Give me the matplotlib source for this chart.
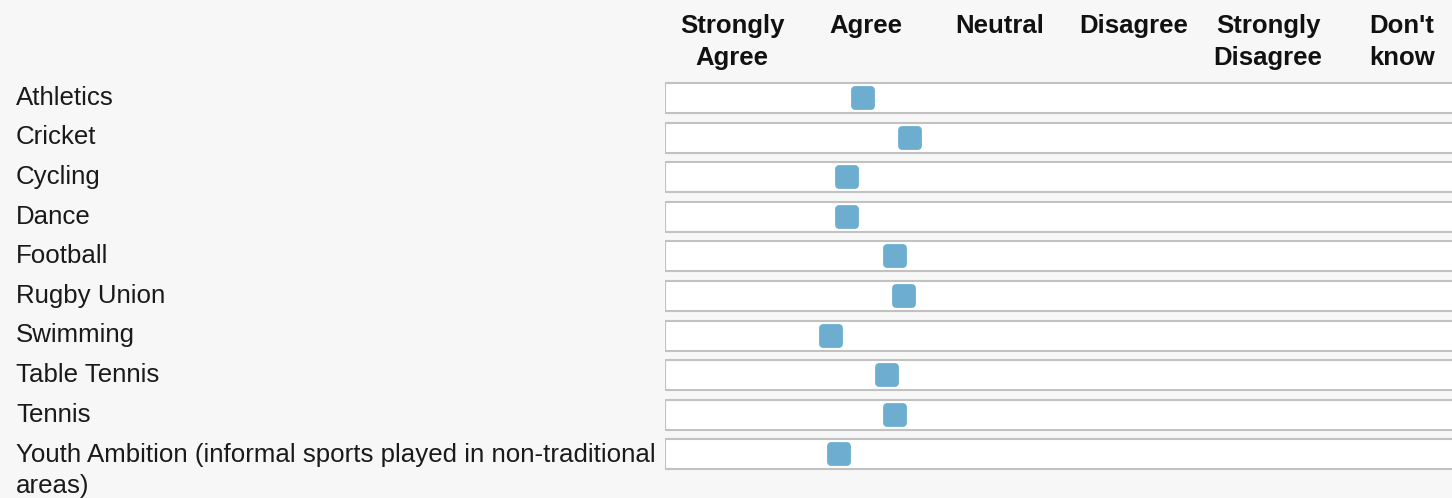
import matplotlib
matplotlib.use("Agg")
import matplotlib.pyplot as plt
from matplotlib.markers import MarkerStyle
from matplotlib.transforms import blended_transform_factory

# ---- data ----
categories = ["Athletics", "Cricket", "Cycling", "Dance", "Football",
              "Rugby Union", "Swimming", "Table Tennis", "Tennis",
              "Youth Ambition (informal sports played in non-traditional\nareas)"]
# 1 = Strongly Agree ... 5 = Strongly Disagree, 6 = Don't know
mean_scores = [1.98, 2.33, 1.86, 1.86, 2.22, 2.28, 1.74, 2.16, 2.22, 1.80]
column_labels = ["Strongly\nAgree", "Agree", "Neutral", "Disagree",
                 "Strongly\nDisagree", "Don't\nknow"]

W, H = 1452, 498
fig = plt.figure(figsize=(W / 100, H / 100), dpi=100)
fig.patch.set_facecolor("#f7f7f7")

ax = fig.add_axes([665 / W, 0, 1 - 665 / W, 1])
ax.set_facecolor("none")
for s in ax.spines.values():
    s.set_visible(False)
ax.set_xticks([])
ax.set_yticks([])

row_px0, row_step = 98.0, 39.6
ax.set_xlim(0.5, 1 + (W - 732) / 134)
ax.set_ylim((H - row_px0) / row_step, -row_px0 / row_step)


def px2row(p):
    return (p - row_px0) / row_step


LINE = 32 / row_step  # line height in row units
LS = 1.4

rows = list(range(len(categories)))
ax.barh(rows, [6.0] * len(rows), left=0.5, height=0.76, color="white",
        edgecolor="#c2c2c2", linewidth=1.5, zorder=1, clip_on=True)

mk = MarkerStyle("s", joinstyle="round")
ax.plot(mean_scores, rows, linestyle="none", marker=mk,
        markersize=11.6, markerfacecolor="#6daed0", markeredgecolor="#6daed0",
        markeredgewidth=5.6, zorder=3, clip_on=False)

# column headers (va='baseline' aligns the last line)
for i, lab in enumerate(column_labels):
    n = lab.count("\n")
    ax.text(i + 1, px2row(33) + n * LINE, lab, ha="center", va="baseline",
            fontsize=18.5, fontweight="bold", family="Liberation Sans",
            color="#111111", linespacing=LS)

# row labels
tr = blended_transform_factory(fig.transFigure, ax.transData)
for r, lab in zip(rows, categories):
    n = lab.count("\n")
    fig.text(16 / W, r + 0.17 + n * LINE, lab, transform=tr, ha="left",
             va="baseline", fontsize=18.6, family="Liberation Sans",
             color="#1a1a1a", linespacing=LS)

fig.savefig("out.png", dpi=100, facecolor=fig.get_facecolor())
